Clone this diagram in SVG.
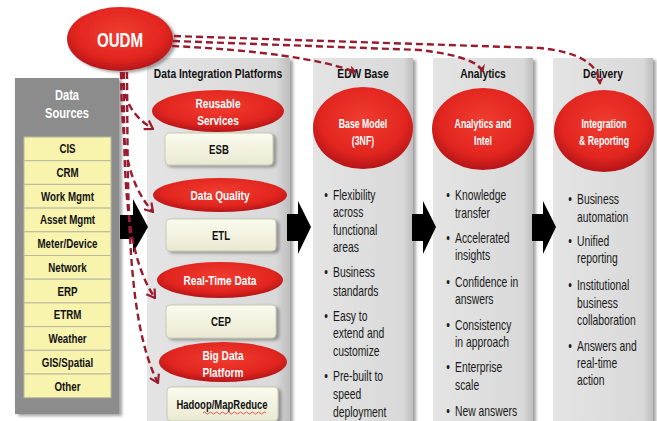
<svg xmlns="http://www.w3.org/2000/svg" width="657" height="421" viewBox="0 0 657 421">
<style>
text{font-family:"Liberation Sans",Arial,Helvetica,sans-serif}
.ttl{font-weight:bold;font-size:13px;fill:#111;text-anchor:middle}
.wt{font-weight:bold;font-size:13px;fill:#fff;text-anchor:middle}
.wc{font-weight:bold;font-size:12.5px;fill:#fff;text-anchor:middle}
.yl{font-weight:bold;font-size:12.5px;fill:#111;text-anchor:middle}
.bx{font-weight:bold;font-size:13px;fill:#111;text-anchor:middle}
.bl{font-size:14px;fill:#1a1a1a}
.panel{fill:url(#pg)}
.red{fill:url(#rg)}
.wbox{fill:url(#wg);stroke:#c9c9b4;stroke-width:1}
.ybox{fill:#f8f3ad;stroke:#b9b9a0;stroke-width:1}
.dash{fill:none;stroke:#981c2e;stroke-width:2.4;stroke-dasharray:7 4}
.blk{fill:#000}
</style>
<defs>
<linearGradient id="pg" x1="0" y1="0" x2="1" y2="0">
<stop offset="0" stop-color="#e4e4e4"/><stop offset="0.9" stop-color="#d9d9d9"/><stop offset="1" stop-color="#bdbdbd"/>
</linearGradient>
<radialGradient id="rg" cx="50%" cy="40%" r="60%">
<stop offset="0" stop-color="#f03c30"/><stop offset="0.7" stop-color="#e2261f"/><stop offset="1" stop-color="#b51418"/>
</radialGradient>
<linearGradient id="wg" x1="0" y1="0" x2="0" y2="1">
<stop offset="0" stop-color="#fbfbee"/><stop offset="1" stop-color="#e9e9d2"/>
</linearGradient>
<filter id="sh" x="-10%" y="-10%" width="130%" height="130%">
<feDropShadow dx="3" dy="2" stdDeviation="1.5" flood-color="#666" flood-opacity="0.6"/>
</filter>
<marker id="chev" viewBox="0 0 10 12" refX="9" refY="6" markerWidth="10" markerHeight="12" markerUnits="userSpaceOnUse" orient="auto">
<path d="M1,1 L9,6 L1,11" fill="none" stroke="#981c2e" stroke-width="2.2"/>
</marker>
<marker id="vee" viewBox="0 0 10 10" refX="8" refY="5" markerWidth="9" markerHeight="9" markerUnits="userSpaceOnUse" orient="auto">
<path d="M0,0 L9,5 L0,10 L3,5 Z" fill="#981c2e"/>
</marker>
</defs>

<rect width="657" height="421" fill="#fff"/>

<g id="data-sources">
<rect x="15" y="78" width="104" height="336" fill="#8c8c8c" filter="url(#sh)"/>
<text transform="translate(67,100) scale(0.74,1)" font-size="15" font-weight="bold" fill="#fff" text-anchor="middle">Data</text>
<text transform="translate(67,118) scale(0.74,1)" font-size="15" font-weight="bold" fill="#fff" text-anchor="middle">Sources</text>
<rect class="ybox" x="24" y="137" width="87" height="23.7"/>
<rect class="ybox" x="24" y="160.7" width="87" height="23.7"/>
<rect class="ybox" x="24" y="184.4" width="87" height="23.7"/>
<rect class="ybox" x="24" y="208.1" width="87" height="23.7"/>
<rect class="ybox" x="24" y="231.8" width="87" height="23.7"/>
<rect class="ybox" x="24" y="255.5" width="87" height="23.7"/>
<rect class="ybox" x="24" y="279.2" width="87" height="23.7"/>
<rect class="ybox" x="24" y="302.9" width="87" height="23.7"/>
<rect class="ybox" x="24" y="326.6" width="87" height="23.7"/>
<rect class="ybox" x="24" y="350.3" width="87" height="23.7"/>
<rect class="ybox" x="24" y="374" width="87" height="23.7"/>
<text class="yl" transform="translate(67.5,153) scale(0.78,1)">CIS</text>
<text class="yl" transform="translate(67.5,177) scale(0.78,1)">CRM</text>
<text class="yl" transform="translate(67.5,200.5) scale(0.78,1)">Work Mgmt</text>
<text class="yl" transform="translate(67.5,224) scale(0.78,1)">Asset Mgmt</text>
<text class="yl" transform="translate(67.5,248) scale(0.78,1)">Meter/Device</text>
<text class="yl" transform="translate(67.5,272) scale(0.78,1)">Network</text>
<text class="yl" transform="translate(67.5,295.5) scale(0.78,1)">ERP</text>
<text class="yl" transform="translate(67.5,319) scale(0.78,1)">ETRM</text>
<text class="yl" transform="translate(67.5,343) scale(0.78,1)">Weather</text>
<text class="yl" transform="translate(67.5,367) scale(0.78,1)">GIS/Spatial</text>
<text class="yl" transform="translate(67.5,390.5) scale(0.78,1)">Other</text>
</g>

<g id="dip">
<rect class="panel" x="147" y="58" width="143" height="370" filter="url(#sh)"/>
<text class="ttl" transform="translate(218,78) scale(0.79,1)">Data Integration Platforms</text>
</g>
<g id="reusable-services">
<ellipse class="red" cx="218" cy="111" rx="66" ry="21"/>
<text class="wt" transform="translate(218,108) scale(0.78,1)">Reusable</text>
<text class="wt" transform="translate(218,125) scale(0.78,1)">Services</text>
</g>
<g id="esb"><rect class="wbox" x="165" y="133" width="108" height="32" rx="4" filter="url(#sh)"/><text class="bx" transform="translate(219,154) scale(0.74,1)">ESB</text></g>
<g id="data-quality"><ellipse class="red" cx="220" cy="195" rx="67" ry="17"/><text class="wt" transform="translate(220,200) scale(0.78,1)">Data Quality</text></g>
<g id="etl"><rect class="wbox" x="166" y="219" width="110" height="32" rx="4" filter="url(#sh)"/><text class="bx" transform="translate(221,240) scale(0.74,1)">ETL</text></g>
<g id="real-time-data"><ellipse class="red" cx="220" cy="280" rx="63" ry="18"/><text class="wt" transform="translate(220,285) scale(0.78,1)">Real-Time Data</text></g>
<g id="cep"><rect class="wbox" x="166" y="305" width="110" height="33" rx="4" filter="url(#sh)"/><text class="bx" transform="translate(221,326) scale(0.74,1)">CEP</text></g>
<g id="big-data-platform">
<ellipse class="red" cx="223" cy="362" rx="64" ry="20"/>
<text class="wt" transform="translate(223,360) scale(0.78,1)">Big Data</text>
<text class="wt" transform="translate(223,377) scale(0.78,1)">Platform</text>
</g>
<g id="hadoop">
<rect class="wbox" x="167" y="387" width="111" height="34" rx="4" filter="url(#sh)"/>
<text class="bx" transform="translate(222,409) scale(0.73,1)" font-size="12.5">Hadoop/MapReduce</text>
<path d="M203,413 q1.5,-2 3,0 t3,0 t3,0 t3,0 t3,0 t3,0 t3,0 t3,0 t3,0 t3,0 t3,0 t3,0 t3,0 t3,0 t3,0 t3,0 t3,0 t3,0 t3,0 t3,0 t3,0" fill="none" stroke="#e03030" stroke-width="0.8"/>
</g>

<g id="edw-base">
<rect class="panel" x="313" y="58" width="100" height="370" filter="url(#sh)"/>
<text class="ttl" transform="translate(363,78) scale(0.79,1)">EDW Base</text>
<ellipse class="red" cx="363" cy="128" rx="50" ry="41"/>
<text class="wc" transform="translate(363,128) scale(0.7,1)">Base Model</text>
<text class="wc" transform="translate(363,145) scale(0.7,1)">(3NF)</text>
<g class="bl" transform="translate(333,0) scale(0.74,1)">
<text x="-12" y="200">•</text><text x="0" y="200">Flexibility</text>
<text x="0" y="217">across</text>
<text x="0" y="235">functional</text>
<text x="0" y="252">areas</text>
<text x="-12" y="277">•</text><text x="0" y="277">Business</text>
<text x="0" y="296">standards</text>
<text x="-12" y="321">•</text><text x="0" y="321">Easy to</text>
<text x="0" y="338">extend and</text>
<text x="0" y="356">customize</text>
<text x="-12" y="381">•</text><text x="0" y="381">Pre-built to</text>
<text x="0" y="399">speed</text>
<text x="0" y="417">deployment</text>
</g>
</g>

<g id="analytics">
<rect class="panel" x="433" y="58" width="100" height="370" filter="url(#sh)"/>
<text class="ttl" transform="translate(483,78) scale(0.79,1)">Analytics</text>
<ellipse class="red" cx="483" cy="129" rx="51" ry="41"/>
<text class="wc" transform="translate(483,128) scale(0.7,1)">Analytics and</text>
<text class="wc" transform="translate(483,145) scale(0.7,1)">Intel</text>
<g class="bl" transform="translate(455,0) scale(0.74,1)">
<text x="-12" y="200">•</text><text x="0" y="200">Knowledge</text>
<text x="0" y="218">transfer</text>
<text x="-12" y="243">•</text><text x="0" y="243">Accelerated</text>
<text x="0" y="260">insights</text>
<text x="-12" y="287">•</text><text x="0" y="287">Confidence in</text>
<text x="0" y="304">answers</text>
<text x="-12" y="330">•</text><text x="0" y="330">Consistency</text>
<text x="0" y="347">in approach</text>
<text x="-12" y="372">•</text><text x="0" y="372">Enterprise</text>
<text x="0" y="390">scale</text>
<text x="-12" y="416">•</text><text x="0" y="416">New answers</text>
</g>
</g>

<g id="delivery">
<rect class="panel" x="553" y="58" width="100" height="370" filter="url(#sh)"/>
<text class="ttl" transform="translate(603,78) scale(0.79,1)">Delivery</text>
<ellipse class="red" cx="604" cy="131" rx="50" ry="41"/>
<text class="wc" transform="translate(604,128) scale(0.7,1)">Integration</text>
<text class="wc" transform="translate(604,145) scale(0.7,1)">&amp; Reporting</text>
<g class="bl" transform="translate(577,0) scale(0.74,1)">
<text x="-12" y="204">•</text><text x="0" y="204">Business</text>
<text x="0" y="222">automation</text>
<text x="-12" y="246">•</text><text x="0" y="246">Unified</text>
<text x="0" y="263">reporting</text>
<text x="-12" y="290">•</text><text x="0" y="290">Institutional</text>
<text x="0" y="308">business</text>
<text x="0" y="325">collaboration</text>
<text x="-12" y="351">•</text><text x="0" y="351">Answers and</text>
<text x="0" y="368">real-time</text>
<text x="0" y="385">action</text>
</g>
</g>

<g id="oudm">
<ellipse class="red" cx="120" cy="39" rx="53" ry="32" filter="url(#sh)"/>
<text transform="translate(120,47) scale(0.72,1)" font-size="21" font-weight="bold" fill="#fff" text-anchor="middle">OUDM</text>
</g>

<g id="connectors">
<path class="blk" d="M120,215 L133,215 L133,199 L148,227 L133,253 L133,239 L120,239 Z"/>
<path class="blk" d="M287,214 L298,214 L298,201 L311,227 L298,254 L298,241 L287,241 Z"/>
<path class="blk" d="M412,214 L423,214 L423,201 L436,227 L423,254 L423,241 L412,241 Z"/>
<path class="blk" d="M532,214 L543,214 L543,201 L556,227 L543,254 L543,241 L532,241 Z"/>

<path class="dash" d="M122,72 C123,100 132,116 153,129" marker-end="url(#chev)"/>
<path class="dash" d="M121,72 C122,140 125,180 153,212" marker-end="url(#chev)"/>
<path class="dash" d="M124,72 C124,160 122,250 155,298" marker-end="url(#chev)"/>
<path class="dash" d="M127,72 C128,200 126,320 158,383" marker-end="url(#chev)"/>

<path class="dash" d="M174,36 L540,48 Q598,54 600,84" marker-end="url(#vee)"/>
<path class="dash" d="M173,41 L420,50 Q478,57 483,72" marker-end="url(#vee)"/>
<path class="dash" d="M172,46 Q300,52 356,72" marker-end="url(#vee)"/>
</g>
</svg>
